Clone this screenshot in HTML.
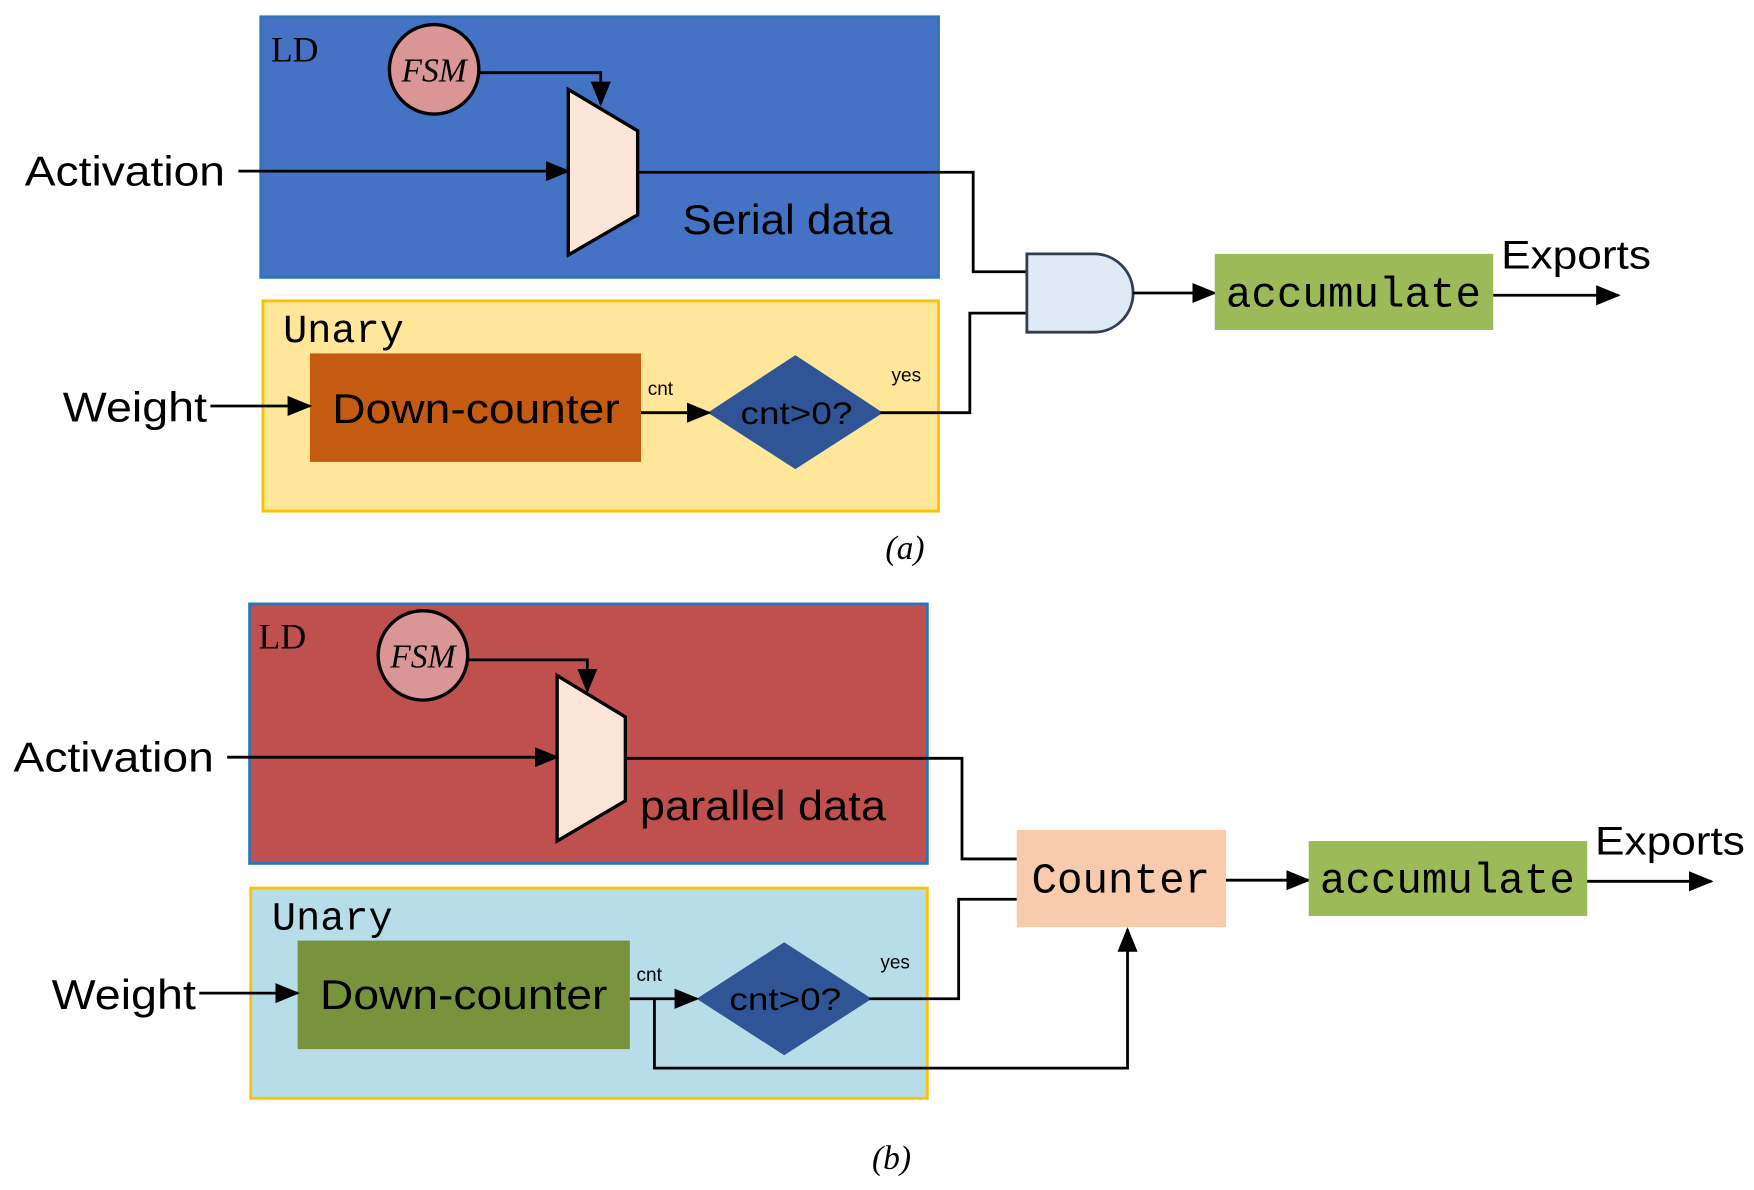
<!DOCTYPE html>
<html><head><meta charset="utf-8"><style>
html,body{margin:0;padding:0;background:#fff}
svg{display:block}
.s{font-family:"Liberation Sans",sans-serif}
.m{font-family:"Liberation Mono",monospace}
.r{font-family:"Liberation Serif",serif}
</style></head><body>
<svg width="1754" height="1190" viewBox="0 0 1568 1064" xmlns="http://www.w3.org/2000/svg">
<defs>
<marker id="b" markerWidth="22" markerHeight="22" refX="20" refY="11" orient="auto" markerUnits="userSpaceOnUse" viewBox="0 0 22 22">
<path d="M0,2 L22,11 L0,20 z" fill="#000"/></marker>
</defs>
<g stroke="#000" stroke-width="2.5" fill="none">
<rect x="233" y="15" width="606" height="233" fill="#4472C4" stroke="#2E75B6"/>
<rect x="235" y="269" width="604" height="188" fill="#FFE699" stroke="#FFC000"/>
<rect x="277" y="316" width="296" height="97" fill="#C55A11" stroke="none"/>
<polygon points="635,369 711,319 787,369 711,418" fill="#2F5597" stroke="#2F5597"/>
<circle cx="388" cy="62" r="40" fill="#D99694" stroke-width="3"/>
<polygon points="508,80 570,117 570,192 508,228" fill="#FBE5D6" stroke-width="3"/>
<polyline points="428,65 537,65 537,93" marker-end="url(#b)"/>
<line x1="213" y1="153" x2="508" y2="153" marker-end="url(#b)"/>
<polyline points="570,154 870,154 870,243 918,243"/>
<line x1="188" y1="363" x2="277" y2="363" marker-end="url(#b)"/>
<line x1="573" y1="369" x2="634" y2="369" marker-end="url(#b)"/>
<polyline points="787,369 867,369 867,280 918,280"/>
<path d="M918,227 L978,227 A35,35 0 0 1 978,297 L918,297 Z" fill="#DEEBF7" stroke="#2F3D56"/>
<line x1="1013" y1="262" x2="1086" y2="262" marker-end="url(#b)"/>
<rect x="1086" y="227" width="249" height="68" fill="#9BBB59" stroke="none"/>
<line x1="1335" y1="264" x2="1447" y2="264" marker-end="url(#b)"/>
<rect x="223" y="540" width="606" height="232" fill="#C0504D" stroke="#2E75B6"/>
<rect x="224" y="794" width="605" height="188" fill="#B7DDE8" stroke="#FFC000"/>
<rect x="266" y="841" width="297" height="97" fill="#77933C" stroke="none"/>
<polygon points="625,893 701,844 777,893 701,942" fill="#2F5597" stroke="#2F5597"/>
<circle cx="378" cy="586" r="40" fill="#D99694" stroke-width="3"/>
<polygon points="498,604 559,641 559,716 498,752" fill="#FBE5D6" stroke-width="3"/>
<polyline points="418,590 525,590 525,618" marker-end="url(#b)"/>
<line x1="203" y1="677" x2="498" y2="677" marker-end="url(#b)"/>
<polyline points="559,678 860,678 860,768 909,768"/>
<line x1="178" y1="888" x2="266" y2="888" marker-end="url(#b)"/>
<line x1="563" y1="893" x2="623" y2="893" marker-end="url(#b)"/>
<polyline points="585,893 585,955 1008,955 1008,831" marker-end="url(#b)"/>
<polyline points="777,893 857,893 857,804 909,804"/>
<rect x="909" y="742" width="187" height="87" fill="#F8CBAD" stroke="none"/>
<line x1="1096" y1="787" x2="1170" y2="787" marker-end="url(#b)"/>
<rect x="1170" y="752" width="249" height="67" fill="#9BBB59" stroke="none"/>
<line x1="1419" y1="788" x2="1530" y2="788" marker-end="url(#b)"/>
</g>
<g fill="#000">
<text x="242" y="55" class="r" font-size="32">LD</text>
<text x="388" y="73" class="r" font-size="30" font-style="italic" text-anchor="middle">FSM</text>
<text x="22" y="166" class="s" font-size="37" textLength="179" lengthAdjust="spacingAndGlyphs">Activation</text>
<text x="610" y="209" class="s" font-size="37" textLength="188" lengthAdjust="spacingAndGlyphs">Serial data</text>
<text x="253" y="306" class="m" font-size="36">Unary</text>
<text x="56" y="377" class="s" font-size="37" textLength="129" lengthAdjust="spacingAndGlyphs">Weight</text>
<text x="297" y="378" class="s" font-size="37" textLength="257" lengthAdjust="spacingAndGlyphs">Down-counter</text>
<text x="579" y="353" class="s" font-size="17">cnt</text>
<text x="662" y="379" class="s" font-size="28" textLength="100" lengthAdjust="spacingAndGlyphs">cnt&gt;0?</text>
<text x="797" y="341" class="s" font-size="17">yes</text>
<text x="1210" y="274" class="m" font-size="38" text-anchor="middle">accumulate</text>
<text x="1342" y="240" class="s" font-size="36" textLength="134" lengthAdjust="spacingAndGlyphs">Exports</text>
<text x="809" y="500" class="r" font-size="30" font-style="italic" text-anchor="middle">(a)</text>

<text x="231" y="580" class="r" font-size="32">LD</text>
<text x="378" y="597" class="r" font-size="30" font-style="italic" text-anchor="middle">FSM</text>
<text x="12" y="690" class="s" font-size="37" textLength="179" lengthAdjust="spacingAndGlyphs">Activation</text>
<text x="572" y="733" class="s" font-size="37" textLength="220" lengthAdjust="spacingAndGlyphs">parallel data</text>
<text x="243" y="831" class="m" font-size="36">Unary</text>
<text x="46" y="902" class="s" font-size="37" textLength="129" lengthAdjust="spacingAndGlyphs">Weight</text>
<text x="286" y="902" class="s" font-size="37" textLength="257" lengthAdjust="spacingAndGlyphs">Down-counter</text>
<text x="569" y="877" class="s" font-size="17">cnt</text>
<text x="652" y="903" class="s" font-size="28" textLength="100" lengthAdjust="spacingAndGlyphs">cnt&gt;0?</text>
<text x="787" y="866" class="s" font-size="17">yes</text>
<text x="1002" y="798" class="m" font-size="38" text-anchor="middle">Counter</text>
<text x="1294" y="798" class="m" font-size="38" text-anchor="middle">accumulate</text>
<text x="1426" y="764" class="s" font-size="36" textLength="134" lengthAdjust="spacingAndGlyphs">Exports</text>
<text x="797" y="1045" class="r" font-size="30" font-style="italic" text-anchor="middle">(b)</text>
</g>
</svg>
</body></html>
